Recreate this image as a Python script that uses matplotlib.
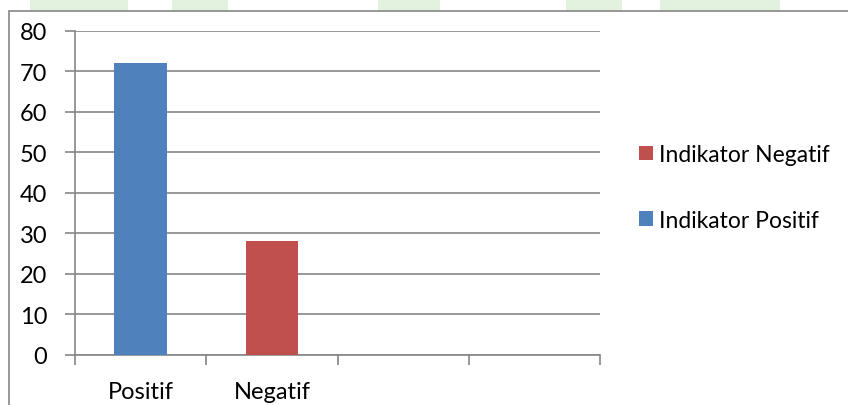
import matplotlib
matplotlib.use("Agg")
import matplotlib.pyplot as plt
from matplotlib.patches import Rectangle, Patch

categories = ["Positif", "Negatif", "", ""]
series_names = ["Indikator Positif", "Indikator Negatif"]
positif_values = [72]
negatif_values = [28]
y_ticks = [0, 10, 20, 30, 40, 50, 60, 70, 80]

BLUE = "#4F81BD"
RED = "#C0504D"
GRID = "#868686"

plt.rcParams['font.family'] = ['Lato', 'DejaVu Sans']

W, H = 848, 406
fig = plt.figure(figsize=(W / 100, H / 100), dpi=100)
fig.patch.set_facecolor("white")

# faint green watermark shapes at top
for (x0, x1) in [(30, 128), (172, 228), (378, 440), (566, 622), (660, 780)]:
    fig.patches.append(Rectangle((x0 / W, 1 - 12 / H), (x1 - x0) / W, 12 / H,
                                 transform=fig.transFigure, facecolor="#e3f2de",
                                 edgecolor="none", zorder=0))

# chart border
fig.patches.append(Rectangle((9 / W, -0.1), 1.2, (1 - 12 / H) + 0.1,
                             transform=fig.transFigure, facecolor="white",
                             edgecolor=GRID, linewidth=1.2, zorder=1))

ax = fig.add_axes([75 / W, 50 / H, 525 / W, 324.3 / H])
ax.set_zorder(2)
ax.patch.set_alpha(0)

ax.bar([0], positif_values, width=0.4, color=BLUE, zorder=3, label=series_names[0])
ax.bar([1], negatif_values, width=0.4, color=RED, zorder=3, label=series_names[1])

ax.set_xlim(-0.5, len(categories) - 0.5)
ax.set_ylim(0, 80)
ax.set_yticks(y_ticks)
ax.yaxis.grid(True, color=GRID, linewidth=1.2, zorder=1)
ax.set_axisbelow(True)

ax.set_xticks(range(len(categories)))
ax.set_xticklabels(categories)
ax.tick_params(axis='x', which='major', length=0, pad=19, labelsize=17)
ax.set_xticks([i - 0.5 for i in range(len(categories) + 1)], minor=True)
ax.tick_params(axis='x', which='minor', length=7, width=1.2, color=GRID, direction='out')
ax.tick_params(axis='y', length=7, width=1.2, color=GRID, labelsize=17, pad=13)

for s in ["top", "right"]:
    ax.spines[s].set_visible(False)
for s in ["left", "bottom"]:
    ax.spines[s].set_color(GRID)
    ax.spines[s].set_linewidth(1.2)

handles = [Patch(facecolor=RED, label=series_names[1]),
           Patch(facecolor=BLUE, label=series_names[0])]
leg = fig.legend(handles=handles, loc='upper left',
                 bbox_to_anchor=(639 / W, 1 - 145 / H), frameon=False,
                 fontsize=16.5, handlelength=0.61, handleheight=0.61,
                 handletextpad=0.28, labelspacing=1.95, borderpad=0,
                 borderaxespad=0)

fig.savefig("out.png", dpi=100)
